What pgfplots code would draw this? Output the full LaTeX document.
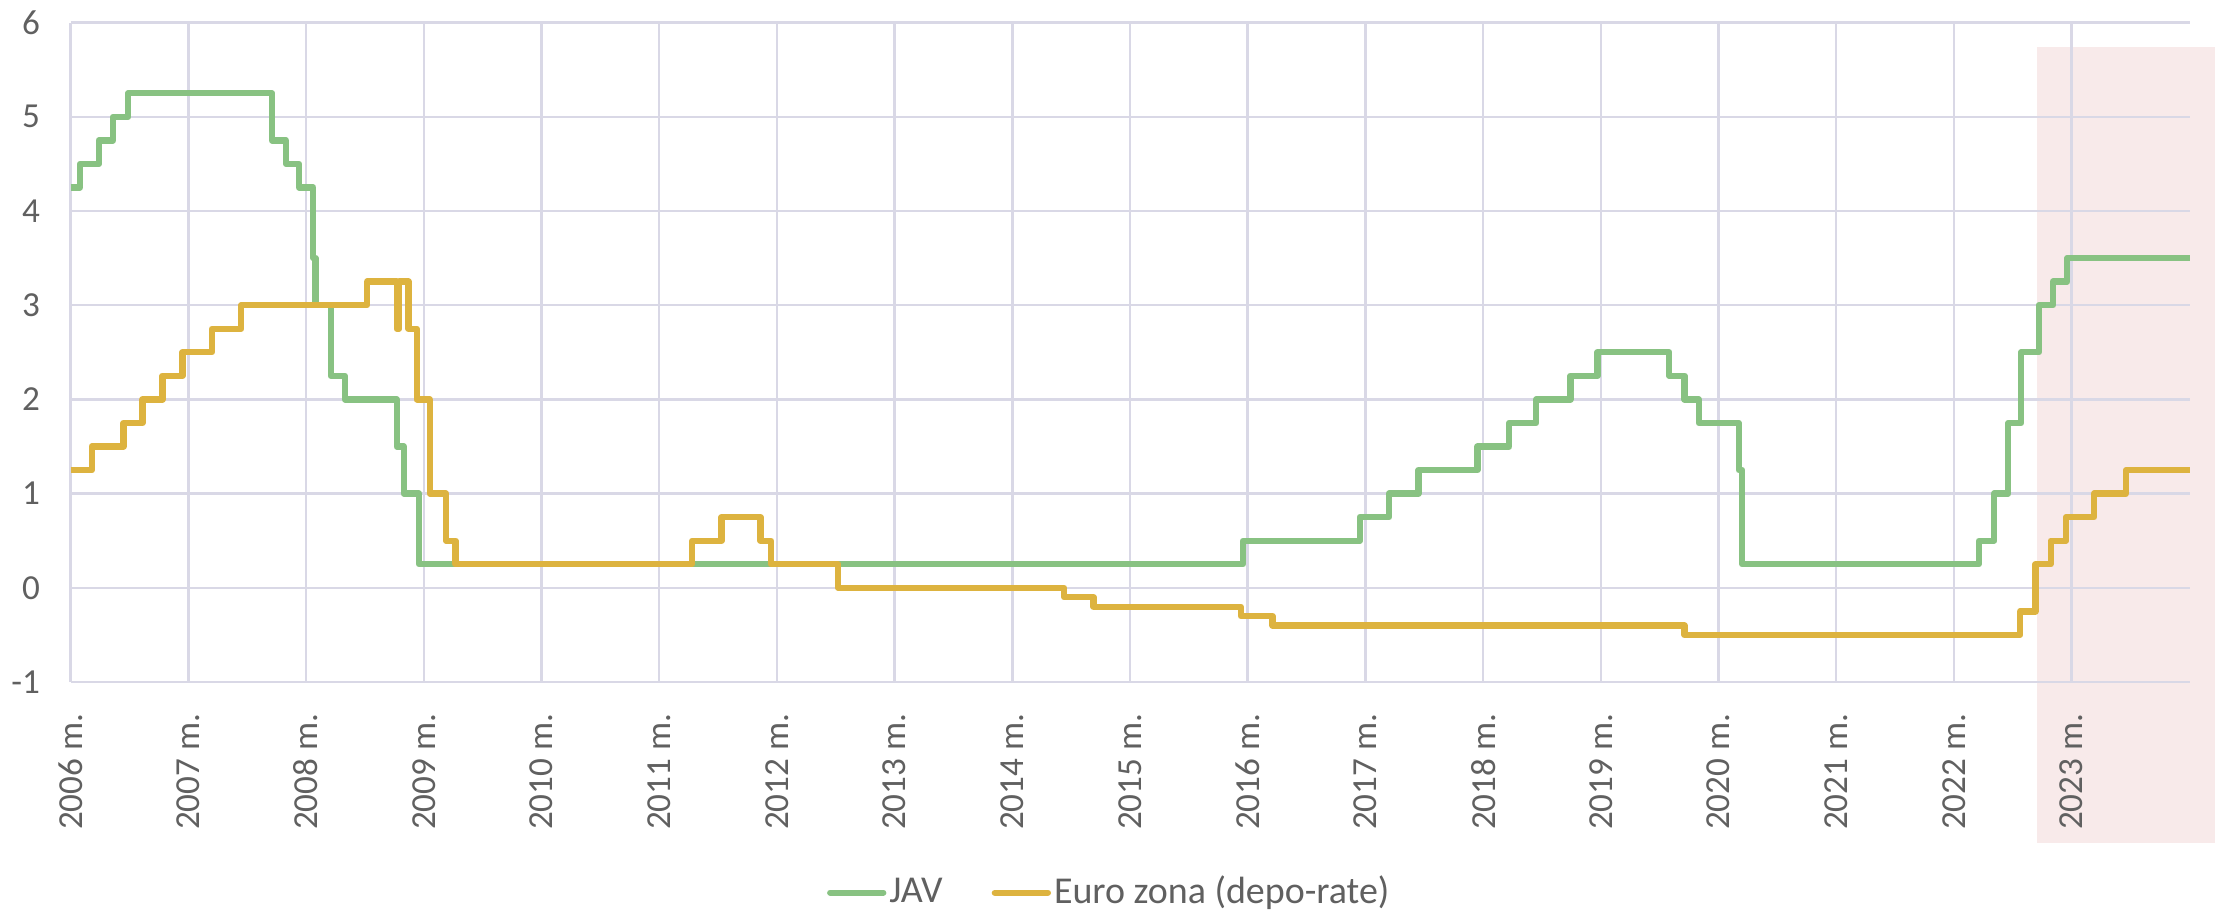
\documentclass[border=0pt]{standalone}
\usepackage{fontspec}
\setmainfont{Carlito}
\usepackage{pgfplots}
\pgfplotsset{compat=1.18}
\definecolor{jav}{HTML}{88C282}
\definecolor{eur}{HTML}{DDB33F}
\definecolor{gridc}{HTML}{D9D8E6}
\definecolor{pinkshade}{HTML}{F8EAEA}
\definecolor{txt}{HTML}{606060}
\begin{document}
\begin{tikzpicture}
\begin{axis}[
  set layers,
  scale only axis, width=211.9mm, height=65.95mm,
  xmin=2006, xmax=2024, ymin=-1, ymax=6,
  xtick={2006,2007,...,2023},
  xticklabels={2006 m.,2007 m.,2008 m.,2009 m.,2010 m.,2011 m.,2012 m.,2013 m.,2014 m.,2015 m.,2016 m.,2017 m.,2018 m.,2019 m.,2020 m.,2021 m.,2022 m.,2023 m.},
  ytick={-1,0,1,2,3,4,5,6},
  yticklabels={-1,0,1,2,3,4,5,6},
  grid=major, major grid style={gridc, line width=0.7pt},
  axis line style={draw=none},
  major tick length=0pt,
  tick label style={font=\fontsize{10}{12}\selectfont, text=txt},
  xticklabel style={rotate=90, anchor=east, inner sep=0pt},
  yticklabel style={anchor=east, inner sep=0pt},
  xticklabel shift=3.1mm, yticklabel shift=3mm,
  clip=false,
  legend columns=2,
  legend style={at={(0.4904,-0.3194)}, anchor=center, draw=none, fill=none,
    font=\fontsize{10.8}{13}\selectfont, text=txt,
    column sep=0pt,
    /tikz/every even column/.append style={column sep=4.6mm},
    nodes={inner sep=0.3mm}},
  legend image code/.code={\draw[#1, line cap=round] (0mm,0mm) -- (5.3mm,0mm);},
]
\begin{pgfonlayer}{axis background}
\fill[pinkshade] (axis cs:2022.70,-2.706) rectangle (axis cs:2024.216,5.745);
\end{pgfonlayer}
\coordinate (bbA) at (axis cs:2005.400,-3.440);
\coordinate (bbB) at (axis cs:2024.216,6.240);

\addplot[const plot, jav, line width=1.8pt, line join=round] table {
x y
2006.00 4.25
2006.08 4.50
2006.24 4.75
2006.36 5.00
2006.49 5.25
2007.71 4.75
2007.83 4.50
2007.94 4.25
2008.06 3.50
2008.08 3.00
2008.21 2.25
2008.33 2.00
2008.77 1.50
2008.83 1.00
2008.96 0.25
2015.96 0.50
2016.95 0.75
2017.20 1.00
2017.45 1.25
2017.95 1.50
2018.22 1.75
2018.45 2.00
2018.74 2.25
2018.97 2.50
2019.58 2.25
2019.71 2.00
2019.83 1.75
2020.17 1.25
2020.20 0.25
2022.21 0.50
2022.34 1.00
2022.46 1.75
2022.57 2.50
2022.72 3.00
2022.84 3.25
2022.96 3.50
2024.00 3.50
};
\addlegendentry{JAV}

\addplot[const plot, eur, line width=1.8pt, line join=round] table {
x y
2006.00 1.25
2006.18 1.50
2006.45 1.75
2006.61 2.00
2006.78 2.25
2006.95 2.50
2007.20 2.75
2007.45 3.00
2008.52 3.25
2008.77 2.75
2008.79 3.25
2008.87 2.75
2008.94 2.00
2009.05 1.00
2009.19 0.50
2009.27 0.25
2011.28 0.50
2011.53 0.75
2011.86 0.50
2011.95 0.25
2012.52 0.00
2014.44 -0.10
2014.69 -0.20
2015.94 -0.30
2016.21 -0.40
2019.71 -0.50
2022.56 -0.25
2022.69 0.25
2022.82 0.50
2022.95 0.75
2023.19 1.00
2023.46 1.25
2024.00 1.25
};
\addlegendentry{Euro zona (depo-rate)}
\end{axis}
\pgfresetboundingbox
\path[use as bounding box] (bbA) rectangle (bbB);
\end{tikzpicture}
\end{document}
